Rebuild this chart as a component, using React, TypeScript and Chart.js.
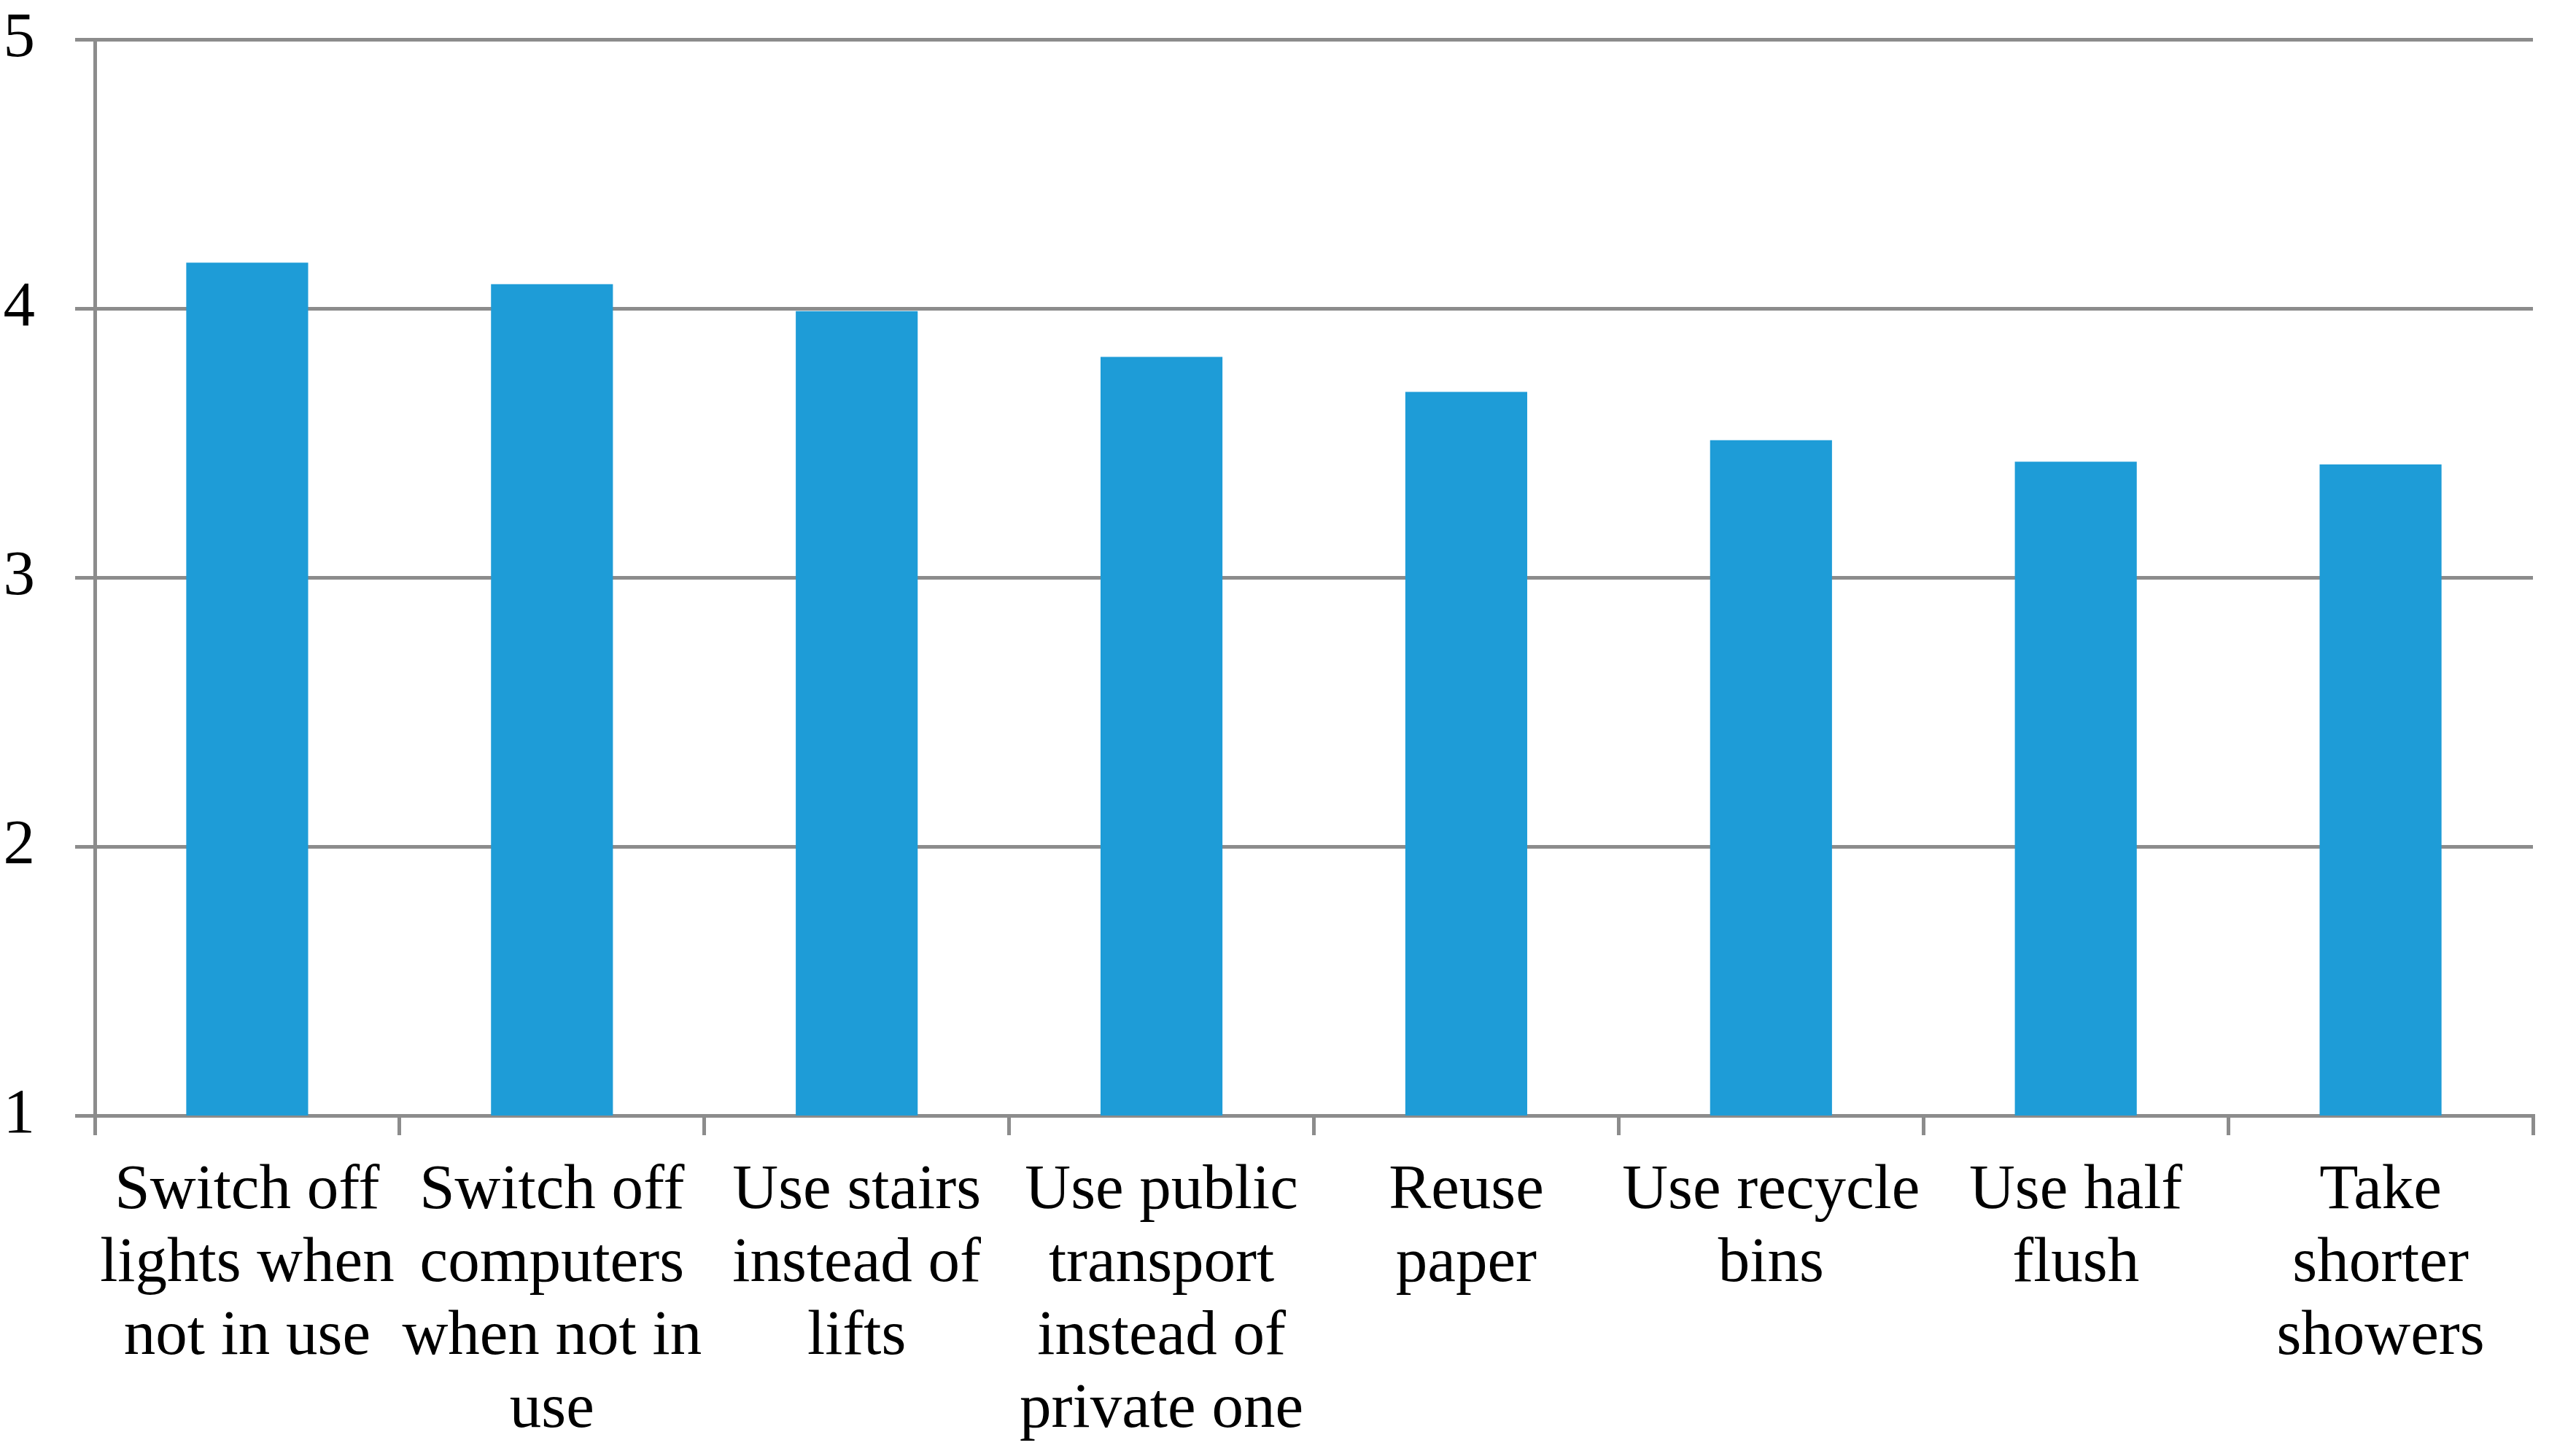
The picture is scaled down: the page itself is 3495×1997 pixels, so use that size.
import React, { useEffect, useRef } from "react";
import { Chart, registerables } from "chart.js";

Chart.register(...registerables);

const categories: string[][] = [
  ["Switch off", "lights when", "not in use"],
  ["Switch off", "computers", "when not in", "use"],
  ["Use stairs", "instead of", "lifts"],
  ["Use public", "transport", "instead of", "private one"],
  ["Reuse", "paper"],
  ["Use recycle", "bins"],
  ["Use half", "flush"],
  ["Take", "shorter", "showers"],
];

const values: number[] = [4.17, 4.09, 3.99, 3.82, 3.69, 3.51, 3.43, 3.42];

const yTicks: number[] = [1, 2, 3, 4, 5];

const BAR_COLOR = "#1E9CD7";
const GRID_COLOR = "#8C8C8C";
const FONT = "'Liberation Serif', 'Times New Roman', serif";

export default function App() {
  const ref = useRef<HTMLCanvasElement | null>(null);

  useEffect(() => {
    if (!ref.current) return;
    const chart = new Chart(ref.current, {
      type: "bar",
      data: {
        labels: categories,
        datasets: [
          {
            data: values,
            backgroundColor: BAR_COLOR,
            borderWidth: 0,
            barPercentage: 0.4,
            categoryPercentage: 1.0,
          },
        ],
      },
      options: {
        animation: false,
        responsive: false,
        devicePixelRatio: 1,
        layout: { padding: { top: 54, right: 22, left: 0, bottom: 0 } },
        plugins: {
          legend: { display: false },
          tooltip: { enabled: false },
          title: { display: false },
        },
        scales: {
          x: {
            grid: {
              display: true,
              drawOnChartArea: false,
              drawTicks: true,
              tickLength: 27,
              color: GRID_COLOR,
              lineWidth: 5,
              offset: true,
            },
            border: { display: true, color: GRID_COLOR, width: 5 },
            ticks: {
              color: "#000",
              padding: 27,
              maxRotation: 0,
              minRotation: 0,
              autoSkip: false,
              font: { family: FONT, size: 87, lineHeight: 1.15 },
            },
            afterFit: (scale: any) => {
              scale.height = 467;
              scale.paddingLeft = 0;
              scale.paddingRight = 0;
            },
          },
          y: {
            min: 1,
            max: 5,
            afterBuildTicks: (scale: any) => {
              scale.ticks = yTicks.map((v) => ({ value: v }));
            },
            grid: {
              color: GRID_COLOR,
              lineWidth: 5,
              drawTicks: true,
              tickLength: 27,
            },
            border: { display: true, color: GRID_COLOR, width: 5 },
            ticks: {
              color: "#000",
              padding: 55,
              font: { family: FONT, size: 87 },
            },
            afterFit: (scale: any) => {
              scale.width = 130;
              scale.paddingTop = 0;
              scale.paddingBottom = 0;
            },
          },
        },
      },
    });
    return () => chart.destroy();
  }, []);

  return (
    <div
      style={{
        position: "fixed",
        left: 0,
        top: 0,
        width: 3495,
        height: 1997,
        background: "#fff",
      }}
    >
      <canvas ref={ref} width={3495} height={1997} style={{ display: "block" }} />
    </div>
  );
}
